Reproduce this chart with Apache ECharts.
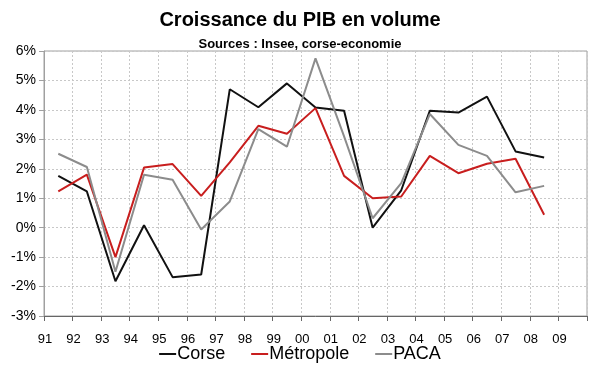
<!DOCTYPE html>
<html><head><meta charset="utf-8">
<script src="https://cdn.jsdelivr.net/npm/echarts@6/dist/echarts.min.js"></script>
<style>html,body{margin:0;padding:0;background:#fff}#c{width:600px;height:372px}</style>
</head><body><div id="c"></div>
<script>
const years = ['91','92','93','94','95','96','97','98','99','00','01','02','03','04','05','06','07','08','09'];
const corse =     [1.76, 1.23, -1.82, 0.08, -1.68, -1.59, 4.70, 4.09, 4.90, 4.08, 3.97, 0.00, 1.27, 3.97, 3.91, 4.45, 2.59, 2.38];
const metropole = [1.23, 1.80, -1.00, 2.04, 2.16, 1.08, 2.22, 3.46, 3.19, 4.06, 1.76, 1.00, 1.06, 2.44, 1.85, 2.17, 2.34, 0.44];
const paca =      [2.51, 2.06, -1.50, 1.80, 1.63, -0.06, 0.89, 3.35, 2.75, 5.75, 3.10, 0.32, 1.51, 3.86, 2.81, 2.44, 1.20, 1.42];

const toPts = arr => arr.map((v, i) => [i + 0.5, v]);
const font = 'Liberation Sans, Arial, sans-serif';
const chart = echarts.init(document.getElementById('c'));
chart.setOption({
  animation: false,
  title: [
    {text: 'Croissance du PIB en volume', left: 'center', top: 5,
     textStyle: {fontFamily: font, fontSize: 20, fontWeight: 'bold', color: '#000'}},
    {text: 'Sources : Insee, corse-economie', left: 'center', top: 33,
     textStyle: {fontFamily: font, fontSize: 13, fontWeight: 'bold', color: '#000'}}
  ],
  legend: {
    bottom: 4, left: 'center', itemWidth: 17, itemHeight: 2, itemGap: 26,
    icon: 'rect',
    textStyle: {fontFamily: font, fontSize: 18, color: '#000', padding: [0,0,0,-4]},
    data: ['Corse', 'Métropole', 'PACA']
  },
  grid: {left: 44, right: 13, top: 51, bottom: 56, show: true, borderColor: '#a0a0a0', borderWidth: 1},
  xAxis: [
    {type: 'value', min: 0, max: 19, interval: 1, position: 'bottom',
     axisLine: {show: false}, axisTick: {show: false},
     axisLabel: {margin: 17, fontFamily: font, fontSize: 13, color: '#000', padding: [0,0,0,2],
       formatter: v => years[v] !== undefined ? years[v] : ''},
     splitLine: {show: true, lineStyle: {color: '#c8c8c8', type: [2, 2], width: 1}}},
    {type: 'value', min: 0, max: 19, interval: 1, position: 'bottom',
     axisLine: {show: true, onZero: true, lineStyle: {color: '#666', width: 1}},
     axisTick: {show: true, length: 5, lineStyle: {color: '#666'}},
     axisLabel: {show: false}, splitLine: {show: false}}
  ],
  yAxis: {
    type: 'value', min: -3, max: 6, interval: 1,
    axisLine: {show: true, lineStyle: {color: '#a0a0a0'}},
    axisTick: {show: true, length: 5, lineStyle: {color: '#a0a0a0'}},
    axisLabel: {margin: 8, fontFamily: font, fontSize: 14, color: '#000', formatter: v => v + '%'},
    splitLine: {show: true, lineStyle: {color: '#c8c8c8', type: [2, 2], width: 1}}
  },
  series: [
    {name: 'Corse', type: 'line', data: toPts(corse), showSymbol: false, symbol: 'none',
     lineStyle: {color: '#111', width: 2}, itemStyle: {color: '#111'}},
    {name: 'Métropole', type: 'line', data: toPts(metropole), showSymbol: false, symbol: 'none',
     lineStyle: {color: '#c81e1e', width: 2}, itemStyle: {color: '#c81e1e'}},
    {name: 'PACA', type: 'line', data: toPts(paca), showSymbol: false, symbol: 'none',
     lineStyle: {color: '#8c8c8c', width: 2}, itemStyle: {color: '#8c8c8c'}}
  ]
});
</script></body></html>
